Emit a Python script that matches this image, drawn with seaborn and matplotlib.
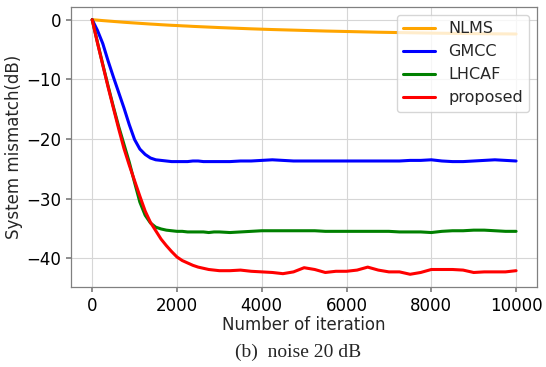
import pandas as pd
import matplotlib
matplotlib.use("Agg")
import matplotlib.pyplot as plt
import seaborn as sns


# iteration grid: finer steps during the fast transient
iterations = list(range(0, 3000, 125)) + list(range(3000, 10001, 250))

nlms = [0, -0.07, -0.15, -0.22, -0.29, -0.36, -0.43, -0.49, -0.55, -0.61, -0.67, -0.73,
        -0.78, -0.84, -0.89, -0.94, -0.98, -1.03, -1.07, -1.12, -1.16, -1.20, -1.24, -1.28,
        -1.32, -1.39, -1.46, -1.53, -1.59, -1.65, -1.70, -1.75, -1.80, -1.85, -1.90, -1.94,
        -1.98, -2.02, -2.06, -2.10, -2.13, -2.16, -2.19, -2.22, -2.25, -2.27, -2.29, -2.31,
        -2.33, -2.35, -2.37, -2.38, -2.40]

gmcc = [0, -1.8, -4.0, -6.9, -9.6, -12.2, -14.8, -17.6, -20.1, -21.7, -22.6, -23.2,
        -23.5, -23.6, -23.7, -23.8, -23.8, -23.8, -23.8, -23.7, -23.7, -23.8, -23.8, -23.8,
        -23.8, -23.8, -23.7, -23.7, -23.6, -23.5, -23.6, -23.7, -23.7, -23.7, -23.7, -23.7,
        -23.7, -23.7, -23.7, -23.7, -23.7, -23.7, -23.6, -23.6, -23.5, -23.7, -23.8, -23.8,
        -23.7, -23.6, -23.5, -23.6, -23.7]

lhcaf = [0, -3.8, -7.5, -11.1, -14.6, -17.9, -20.9, -23.9, -27.3, -30.6, -32.8, -34.1,
         -34.8, -35.1, -35.3, -35.4, -35.5, -35.5, -35.6, -35.6, -35.6, -35.6, -35.7, -35.6,
         -35.6, -35.7, -35.6, -35.5, -35.4, -35.4, -35.4, -35.4, -35.4, -35.4, -35.5, -35.5,
         -35.5, -35.5, -35.5, -35.5, -35.5, -35.6, -35.6, -35.6, -35.7, -35.5, -35.4, -35.4,
         -35.3, -35.3, -35.4, -35.5, -35.5]

proposed = [0, -3.9, -7.6, -11.3, -14.8, -18.3, -21.6, -24.4, -27.0, -29.6, -32.1, -34.0,
            -35.4, -36.8, -37.9, -38.9, -39.8, -40.4, -40.8, -41.2, -41.5, -41.7, -41.9, -42.0,
            -42.1, -42.1, -42.0, -42.2, -42.3, -42.4, -42.6, -42.3, -41.6, -41.9, -42.4, -42.2,
            -42.2, -42.0, -41.5, -42.0, -42.3, -42.3, -42.7, -42.4, -41.9, -41.9, -41.9, -42.0,
            -42.4, -42.3, -42.3, -42.3, -42.1]

series = {"NLMS": nlms, "GMCC": gmcc, "LHCAF": lhcaf, "proposed": proposed}
colors = {"NLMS": "orange", "GMCC": "blue", "LHCAF": "green", "proposed": "red"}


sns.set_theme(style="whitegrid", rc={
    "axes.edgecolor": "0.5",
    "axes.linewidth": 0.9,
    "grid.color": "0.84",
    "grid.linewidth": 0.8,
    "xtick.bottom": True,
    "ytick.left": True,
    "xtick.color": "0.5",
    "ytick.color": "0.5",
    "xtick.labelcolor": "black",
    "ytick.labelcolor": "black",
    "xtick.major.size": 3.5,
    "ytick.major.size": 3.5,
})
plt.rcParams["font.family"] = ["DejaVu Sans"]

fig = plt.figure(figsize=(5.46, 3.67), dpi=100)
ax = fig.add_axes([0.130, 0.218, 0.854, 0.763])

for name, vals in series.items():
    sns.lineplot(x=iterations, y=vals, color=colors[name], linewidth=2.2,
                 label=name, ax=ax)

ax.set_xticks([0, 2000, 4000, 6000, 8000, 10000])
ax.set_yticks([0, -10, -20, -30, -40])
ax.tick_params(labelsize=12)
ax.set_xlabel("Number of iteration", fontsize=12, labelpad=1)
ax.set_ylabel("System mismatch(dB)", fontsize=12, labelpad=2)
ax.legend(loc="upper right", fontsize=11.5, framealpha=0.8, labelspacing=0.5)

fig.text(0.546, 1 - 352 / 367, "(b)  noise 20 dB", ha="center", va="center",
         fontsize=14, family=["Liberation Serif"])

fig.savefig("out.png", dpi=100)
